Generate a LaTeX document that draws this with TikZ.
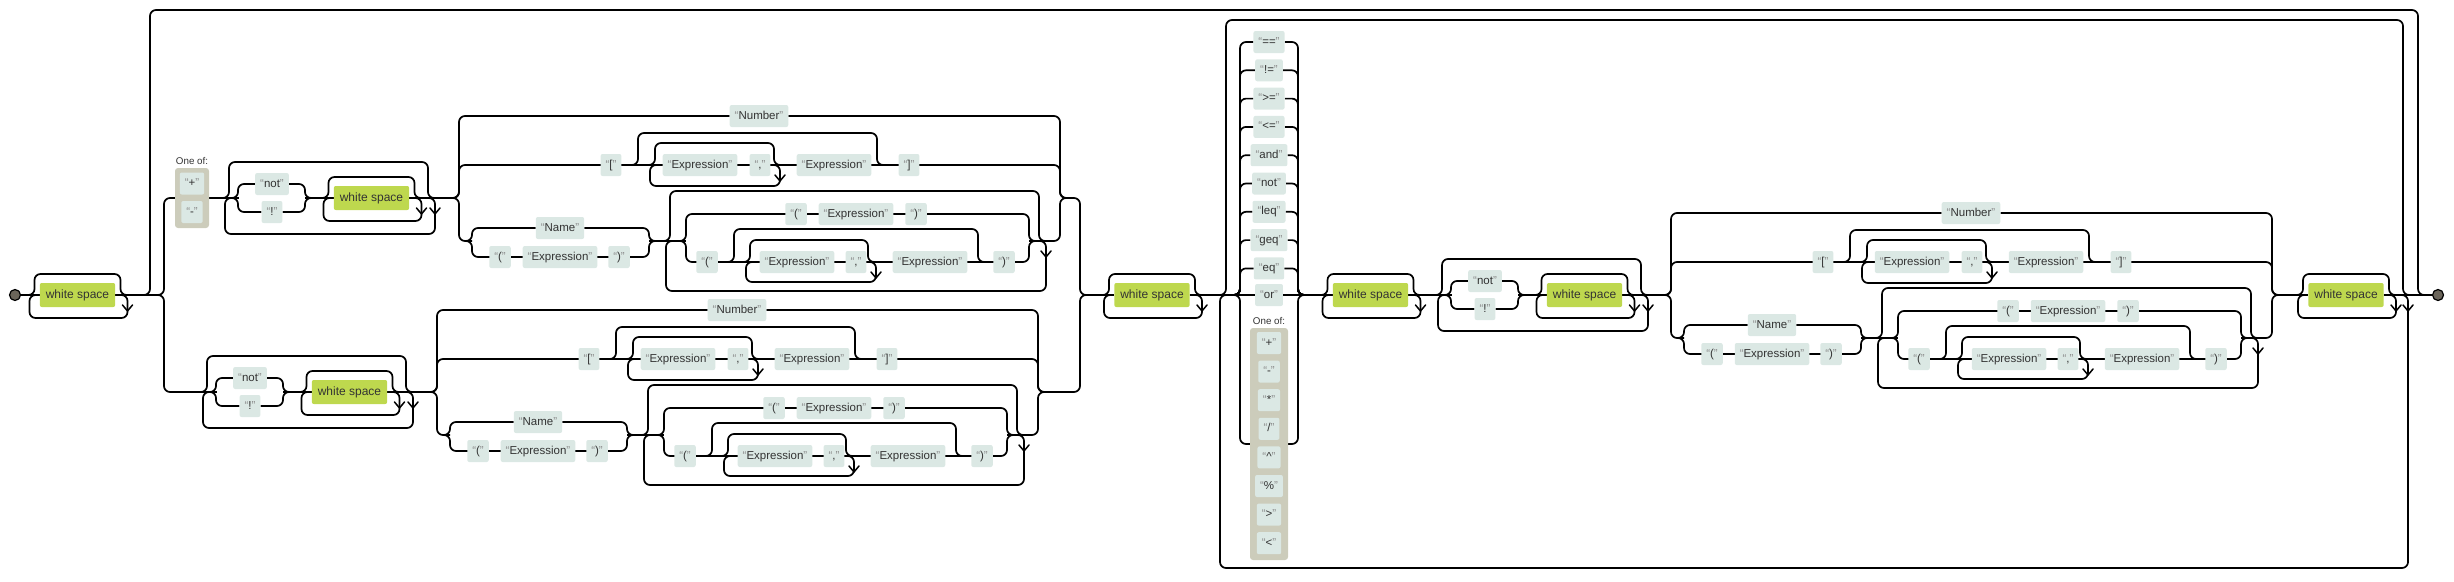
\documentclass[tikz,border=0pt]{standalone}
\usepackage{fontspec}
\setmainfont{Liberation Sans}
\usetikzlibrary{calc}
\pgfdeclarelayer{bg}
\pgfsetlayers{bg,main}
\definecolor{termc}{HTML}{DBE8E4}
\definecolor{ntc}{HTML}{BED84E}
\definecolor{oneofc}{HTML}{CCCCBB}
\definecolor{txtc}{HTML}{333333}
\definecolor{quotec}{HTML}{8A8A8A}
\definecolor{dotc}{HTML}{6B655A}
\newcommand\qt[1]{{\color{quotec}“}#1{\color{quotec}”}}
\tikzset{
 rr/.style={line width=1.7pt, rounded corners=6pt, draw=black},
 arrw/.style={line width=1.5pt, line cap=round, line join=round, draw=black},
 term/.style={fill=termc, rounded corners=2pt, inner xsep=5pt, inner ysep=0pt, minimum height=22pt, text height=8.5pt, text depth=2.5pt, text=txtc, font=\fontsize{11.5}{13}\selectfont},
 wsn/.style={fill=ntc, rounded corners=2pt, inner xsep=6pt, inner ysep=0pt, minimum height=24pt, text height=9pt, text depth=2.5pt, text=txtc, font=\fontsize{12}{14}\selectfont},
 oneof/.style={fill=oneofc, rounded corners=3pt, inner sep=0pt},
 lbl/.style={font=\fontsize{9.8}{11}\selectfont, text=txtc, inner sep=0pt},
 dotn/.style={circle, fill=dotc, draw=black, line width=1.2pt, minimum size=11pt, inner sep=0pt},
}
\newcommand\arrd[2]{\draw[arrw] ({#1-5},{#2+10}) -- ({#1},{#2+16}) -- ({#1+5},{#2+10});}
% white space zero-or-more
\newcommand\wsg[3]{%
  \node[wsn] (#1) at ({#2},{#3}) {white space};
  \begin{pgfonlayer}{bg}
    \draw[rr] ({#2-56},{#3}) -- (#1.west) (#1.east) -- ({#2+58},{#3});
    \draw[rr] ({#2-50},{#3}) -- ({#2-43},{#3}) -- ({#2-43},{#3-21}) -- ({#2+43},{#3-21}) -- ({#2+43},{#3}) -- ({#2+50},{#3});
    \draw[rr] (#1.east) -- ({#2+50},{#3}) -- ({#2+50},{#3+23}) -- ({#2-48},{#3+23}) -- ({#2-48},{#3}) -- ({#2-41},{#3});
  \end{pgfonlayer}
  \arrd{#2+50}{#3}
}
% zero-or-more ( "not" | "!" ) ws*
\newcommand\notgrp[3]{%
  \node[term] (#1not) at ({#2+47},{#3-14}) {\qt{not}};
  \node[term] (#1ex) at ({#2+47},{#3+14}) {\qt{!}};
  \begin{pgfonlayer}{bg}
    \draw[rr] ({#2-14},{#3}) -- ({#2+14},{#3});
    \draw[rr] ({#2+80},{#3}) -- ({#2+228},{#3});
    \draw[rr] ({#2-3},{#3}) -- ({#2+4},{#3}) -- ({#2+4},{#3-36}) -- ({#2+203},{#3-36}) -- ({#2+203},{#3}) -- ({#2+210},{#3});
    \draw[rr] ({#2+196},{#3}) -- ({#2+210},{#3}) -- ({#2+210},{#3+36}) -- ({#2},{#3+36}) -- ({#2},{#3}) -- ({#2+7},{#3});
    \draw[rr] ({#2+6},{#3}) -- ({#2+13},{#3}) -- ({#2+13},{#3-14}) -- (#1not.west) (#1not.east) -- ({#2+80},{#3-14}) -- ({#2+80},{#3}) -- ({#2+87},{#3});
    \draw[rr] ({#2+6},{#3}) -- ({#2+13},{#3}) -- ({#2+13},{#3+14}) -- (#1ex.west) (#1ex.east) -- ({#2+80},{#3+14}) -- ({#2+80},{#3}) -- ({#2+87},{#3});
  \end{pgfonlayer}
  \arrd{#2+210}{#3}
  \wsg{#1ws}{#2+146.5}{#3}
}
% atom choice
\newcommand\atom[3]{%
  \pgfmathsetmacro\aN{#3-82}\pgfmathsetmacro\aB{#3-33}\pgfmathsetmacro\aC{#3+43}%
  \pgfmathsetmacro\aR{#3+64}\pgfmathsetmacro\aQ{#3+16}%
  \pgfmathsetmacro\aNm{#3+30}\pgfmathsetmacro\aP{#3+59}%
  \def\X{#2}%
  \node[term] (#1num) at ({\X+300},\aN) {\qt{Number}};
  \node[term] (#1lb) at ({\X+152},\aB) {\qt{[}};
  \node[term] (#1le1) at ({\X+241},\aB) {\qt{Expression}};
  \node[term] (#1lc) at ({\X+301},\aB) {\qt{,}};
  \node[term] (#1le2) at ({\X+375},\aB) {\qt{Expression}};
  \node[term] (#1rb) at ({\X+450},\aB) {\qt{]}};
  \node[term] (#1name) at ({\X+101},\aNm) {\qt{Name}};
  \node[term] (#1po) at ({\X+41},\aP) {\qt{(}};
  \node[term] (#1pe) at ({\X+101},\aP) {\qt{Expression}};
  \node[term] (#1pc) at ({\X+160},\aP) {\qt{)}};
  \node[term] (#1ao) at ({\X+337},\aQ) {\qt{(}};
  \node[term] (#1ae) at ({\X+397},\aQ) {\qt{Expression}};
  \node[term] (#1ac) at ({\X+457},\aQ) {\qt{)}};
  \node[term] (#1bo) at ({\X+248},\aR) {\qt{(}};
  \node[term] (#1be1) at ({\X+338},\aR) {\qt{Expression}};
  \node[term] (#1bc) at ({\X+397},\aR) {\qt{,}};
  \node[term] (#1be2) at ({\X+471},\aR) {\qt{Expression}};
  \node[term] (#1bcl) at ({\X+545},\aR) {\qt{)}};
  \begin{pgfonlayer}{bg}
    \draw[rr] ({\X-16},{#3}) -- (\X,{#3}) -- (\X,\aN) -- (#1num.west) (#1num.east) -- ({\X+601},\aN) -- ({\X+601},{#3}) -- ({\X+611},{#3});
    \draw[rr] ({\X-16},{#3}) -- (\X,{#3}) -- (\X,\aB) -- ({\X+601},\aB) -- ({\X+601},{#3}) -- ({\X+611},{#3});
    \draw[rr] ({\X-16},{#3}) -- (\X,{#3}) -- (\X,\aC) -- ({\X+13},\aC);
    \draw[rr] ({\X+190},\aC) -- ({\X+227},\aC);
    \draw[rr] ({\X+570},\aC) -- ({\X+601},\aC) -- ({\X+601},{#3}) -- ({\X+611},{#3});
    \draw[rr] ({\X+172},\aB) -- ({\X+179},\aB) -- ({\X+179},{\aB-32}) -- ({\X+418},{\aB-32}) -- ({\X+418},\aB) -- ({\X+425},\aB);
    \draw[rr] ({\X+189},\aB) -- ({\X+196},\aB) -- ({\X+196},{\aB-22}) -- ({\X+315},{\aB-22}) -- ({\X+315},\aB) -- ({\X+322},\aB);
    \draw[rr] (#1lc.east) -- ({\X+321},\aB) -- ({\X+321},{\aB+21}) -- ({\X+191},{\aB+21}) -- ({\X+191},\aB) -- ({\X+198},\aB);
    \draw[rr] ({\X+6},\aC) -- ({\X+13},\aC) -- ({\X+13},\aNm) -- (#1name.west) (#1name.east) -- ({\X+190},\aNm) -- ({\X+190},\aC) -- ({\X+197},\aC);
    \draw[rr] ({\X+6},\aC) -- ({\X+13},\aC) -- ({\X+13},\aP) -- ({\X+190},\aP) -- ({\X+190},\aC) -- ({\X+197},\aC);
    \draw[rr] ({\X+204},\aC) -- ({\X+211},\aC) -- ({\X+211},{\aC-50}) -- ({\X+580},{\aC-50}) -- ({\X+580},\aC) -- ({\X+587},\aC);
    \draw[rr] ({\X+573},\aC) -- ({\X+587},\aC) -- ({\X+587},{\aC+50}) -- ({\X+207},{\aC+50}) -- ({\X+207},\aC) -- ({\X+214},\aC);
    \draw[rr] ({\X+220},\aC) -- ({\X+227},\aC) -- ({\X+227},\aQ) -- ({\X+570},\aQ) -- ({\X+570},\aC) -- ({\X+577},\aC);
    \draw[rr] ({\X+220},\aC) -- ({\X+227},\aC) -- ({\X+227},\aR) -- ({\X+570},\aR) -- ({\X+570},\aC) -- ({\X+577},\aC);
    \draw[rr] ({\X+268},\aR) -- ({\X+275},\aR) -- ({\X+275},{\aR-33}) -- ({\X+519},{\aR-33}) -- ({\X+519},\aR) -- ({\X+526},\aR);
    \draw[rr] ({\X+284},\aR) -- ({\X+291},\aR) -- ({\X+291},{\aR-22}) -- ({\X+409},{\aR-22}) -- ({\X+409},\aR) -- ({\X+416},\aR);
    \draw[rr] (#1bc.east) -- ({\X+417},\aR) -- ({\X+417},{\aR+20}) -- ({\X+287},{\aR+20}) -- ({\X+287},\aR) -- ({\X+294},\aR);
  \end{pgfonlayer}
  \arrd{\X+321}{\aB}
  \arrd{\X+587}{\aC}
  \arrd{\X+417}{\aR}
}
\begin{document}
\begin{tikzpicture}[x=1pt,y=-1pt]
\useasboundingbox (0,0) rectangle (2454,581);
% start and end
\node[dotn] (st) at (15,295) {};
\node[dotn] (en) at (2438,295) {};
\wsg{ws1}{77.5}{295}
% branch A
\node[lbl] (lblA) at (192,161) {One of:};
\node[oneof, minimum width=34pt, minimum height=60pt] (oneofA) at (192,198) {};
\node[term] (plA) at (192,183.5) {\qt{+}};
\node[term] (miA) at (192,212) {\qt{-}};
\notgrp{na}{225}{198}
\atom{aa}{459}{198}
% branch B
\notgrp{nb}{203}{392}
\atom{ab}{437}{392}
% second white space
\wsg{ws2}{1152}{295}
% operator choice
\foreach \t [count=\i] in {==,!=,>=,<=,and,not,leq,geq,eq} {
  \pgfmathsetmacro\yy{42+28.3*(\i-1)}
  \node[term] (op\i) at (1269,\yy) {\qt{\t}};
}
\node[term] (opor) at (1269,295) {\qt{or}};
\node[lbl] (lblL) at (1269,321) {One of:};
\node[oneof, minimum width=38pt, minimum height=232pt] (oneofL) at (1269,444) {};
\foreach \t [count=\i] in {+,-,*,/,\textasciicircum,\%,>,<} {
  \pgfmathsetmacro\yy{343+28.6*(\i-1)}
  \node[term] (oo\i) at (1269,\yy) {\qt{\t}};
}
\wsg{ws3}{1370.5}{295}
\notgrp{nl}{1438}{295}
\atom{al}{1671}{295}
\wsg{ws4}{2346}{295}
\begin{pgfonlayer}{bg}
  \draw[rr] (st.east) -- (25,295);
  \draw[rr] (130,295) -- (150,295) -- (150,10) -- (2418,10) -- (2418,295) -- (en.west);
  \draw[rr] (130,295) -- (164,295) -- (164,198) -- (oneofA.west);
  \draw[rr] (oneofA.east) -- (215,198);
  \draw[rr] (130,295) -- (164,295) -- (164,392) -- (193,392);
  \draw[rr] (1065,198) -- (1080,198) -- (1080,295) -- (1100,295);
  \draw[rr] (1043,392) -- (1080,392) -- (1080,295) -- (1100,295);
  \draw[rr] (1205,295) -- (1320,295);
  \foreach \i in {1,...,9} {
    \pgfmathsetmacro\yy{42+28.3*(\i-1)}
    \draw[rr] (1230,295) -- (1240,295) -- (1240,\yy) -- (op\i.west) (op\i.east) -- (1298,\yy) -- (1298,295) -- (1308,295);
  }
  \draw[rr] (1230,295) -- (1240,295) -- (1240,444) -- (oneofL.west) (oneofL.east) -- (1298,444) -- (1298,295) -- (1308,295);
  \draw[rr] (1212,295) -- (1226,295) -- (1226,20) -- (2403,20) -- (2403,295) -- (2413,295);
  \draw[rr] (2395,295) -- (2408,295) -- (2408,568) -- (1220,568) -- (1220,295) -- (1230,295);
  \draw[rr] (2278,295) -- (2295,295);
  \draw[rr] (2398,295) -- (en.west);
\end{pgfonlayer}
\arrd{2408}{295}
\end{tikzpicture}
\end{document}
